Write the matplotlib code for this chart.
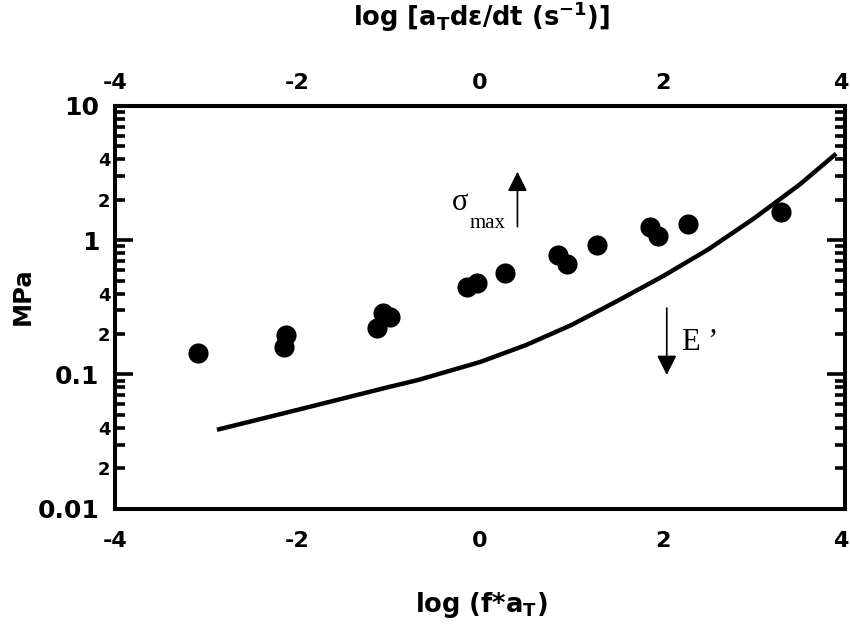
import matplotlib
matplotlib.use("Agg")
import matplotlib.pyplot as plt
from matplotlib.ticker import FixedLocator, FixedFormatter
from matplotlib.transforms import ScaledTranslation

# ---- data ----
sigma_logf = [-3.09, -2.15, -2.12, -1.13, -1.06, -0.99, -0.14, -0.03, 0.27,
              0.85, 0.95, 1.28, 1.86, 1.95, 2.28, 3.30]
sigma_mpa = [0.144, 0.160, 0.196, 0.221, 0.286, 0.267, 0.445, 0.477, 0.566,
             0.77, 0.66, 0.914, 1.26, 1.08, 1.31, 1.63]

eprime_logf = [-2.88, -2.0, -1.0, -0.68, 0.0, 0.5, 1.0, 1.5, 2.0, 2.5, 3.0, 3.5, 3.9]
eprime_mpa = [0.0387, 0.0544, 0.0805, 0.0908, 0.1236, 0.165, 0.233, 0.351,
              0.537, 0.853, 1.45, 2.59, 4.40]

x_ticks = [-4, -2, 0, 2, 4]
x_ticklabels = ["-4", "-2", "0", "2", "4"]
y_major = [0.01, 0.1, 1, 10]
y_major_labels = ["0.01", "0.1", "1", "10"]

# ---- style ----
plt.rcParams['font.family'] = ['DejaVu Sans']
plt.rcParams['font.weight'] = 'bold'
plt.rcParams['axes.unicode_minus'] = False
plt.rcParams['mathtext.fontset'] = 'custom'
plt.rcParams['mathtext.rm'] = 'DejaVu Sans:bold'
plt.rcParams['mathtext.it'] = 'DejaVu Sans:bold'
plt.rcParams['mathtext.bf'] = 'DejaVu Sans:bold'
plt.rcParams['mathtext.default'] = 'rm'

W, H = 850, 626
fig = plt.figure(figsize=(8.5, 6.26), dpi=100)
ax = fig.add_axes([114.7 / W, 1 - 508.7 / H, (845.3 - 114.7) / W, (508.7 - 105.8) / H])

ax.plot(eprime_logf, eprime_mpa, color='black', lw=3.2, solid_capstyle='butt', zorder=2)
ax.plot(sigma_logf, sigma_mpa, 'o', color='black', ms=14.5, mew=0, zorder=3)

ax.set_xlim(-4, 4)
ax.set_yscale('log')
ax.set_ylim(0.01, 10)

for s in ax.spines.values():
    s.set_linewidth(2.9)

# x ticks (labels only, no tick marks)
ax.set_xticks(x_ticks)
ax.set_xticklabels(x_ticklabels)
ax.tick_params(axis='x', which='both', length=0, pad=16, labelsize=16)

# y ticks
minor_vals = []
minor_labels = []
for dec in [0.01, 0.1, 1]:
    for m in range(2, 10):
        minor_vals.append(m * dec)
        minor_labels.append(str(m) if m in (2, 4) else "")
ax.yaxis.set_major_locator(FixedLocator(y_major))
ax.yaxis.set_major_formatter(FixedFormatter(y_major_labels))
ax.yaxis.set_minor_locator(FixedLocator(minor_vals))
ax.yaxis.set_minor_formatter(FixedFormatter(minor_labels))
ax.tick_params(axis='y', which='major', direction='in', length=13, width=2.6,
               labelsize=18, pad=11, left=True, right=True)
ax.tick_params(axis='y', which='minor', direction='in', length=7, width=2.6,
               labelsize=13, pad=3, left=True, right=True)

# top axis
secax = ax.secondary_xaxis('top')
secax.set_xticks(x_ticks)
secax.set_xticklabels(x_ticklabels)
secax.tick_params(length=0, pad=9, labelsize=16)
secax.spines['top'].set_linewidth(2.9)

# nudge the right-most x labels inward so they stay inside the figure
shift = ScaledTranslation(-4.5 / 100, 0, fig.dpi_scale_trans)
for lab in [ax.xaxis.get_major_ticks()[-1].label1, secax.xaxis.get_major_ticks()[-1].label2]:
    lab.set_transform(lab.get_transform() + shift)

# axis labels
fig.text(481 / W, 1 - 605 / H, 'log (f*a$_{T}$)', ha='center', va='center', fontsize=18.5)
fig.text(482 / W, 1 - 17 / H, 'log [a$_{T}$d\u03b5/dt (s$^{-1}$)]', ha='center', va='center', fontsize=18.5)
fig.text(23 / W, 1 - 296 / H, 'MPa', ha='center', va='center', rotation=90, fontsize=17.5)

# annotations
ax.annotate('', xy=(0.41, 3.23), xytext=(0.41, 1.258),
            arrowprops=dict(arrowstyle='-|>,head_length=0.6,head_width=0.3',
                            mutation_scale=20, lw=1.2, color='black',
                            shrinkA=0, shrinkB=0))
ax.annotate('', xy=(2.045, 0.099), xytext=(2.045, 0.312),
            arrowprops=dict(arrowstyle='-|>,head_length=0.6,head_width=0.3',
                            mutation_scale=20, lw=1.2, color='black',
                            shrinkA=0, shrinkB=0))
serif = ['Liberation Serif', 'DejaVu Serif']
ax.text(-0.307, 1.675, '\u03c3', family=serif, fontweight='normal', fontsize=22,
        ha='left', va='baseline')
ax.text(-0.11, 1.23, 'max', family=serif, fontweight='normal', fontsize=15,
        ha='left', va='baseline')
ax.text(2.21, 0.152, 'E \u2019', family=serif, fontweight='normal', fontsize=22,
        ha='left', va='baseline')

fig.savefig('out.png', dpi=100)
